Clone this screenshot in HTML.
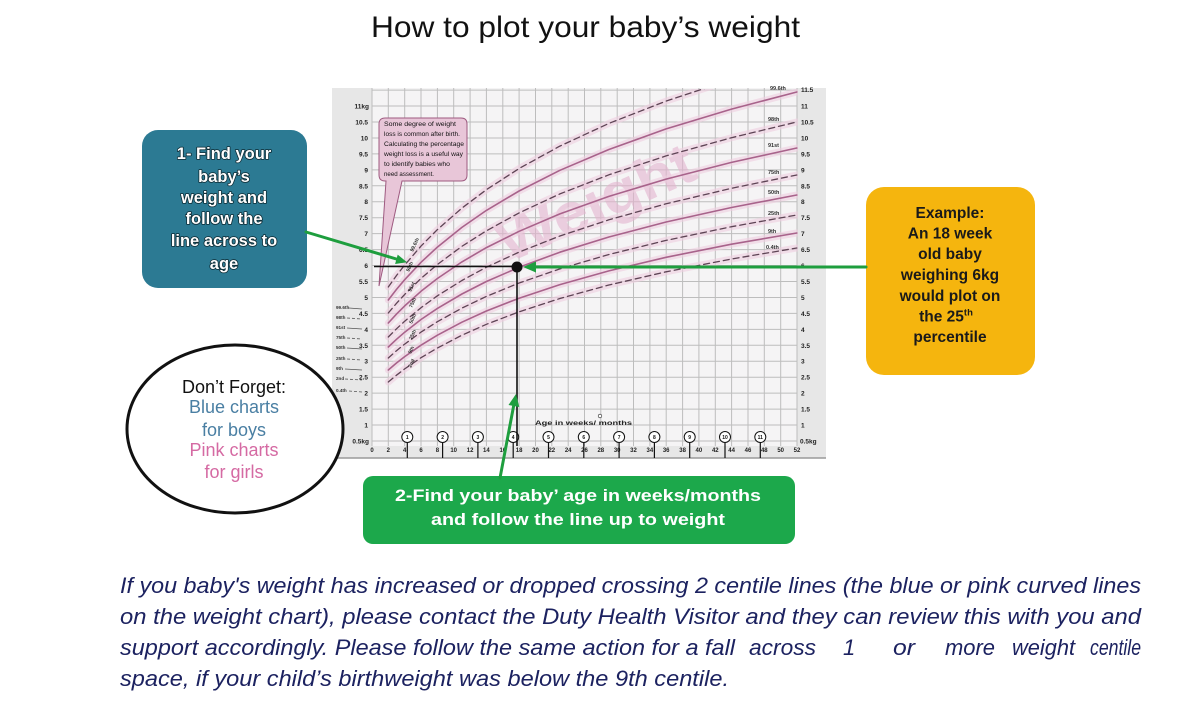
<!DOCTYPE html>
<html>
<head>
<meta charset="utf-8">
<style>
html,body{margin:0;padding:0;background:#fff;}
svg{display:block;}
text{font-family:"Liberation Sans",Arial,sans-serif;}
</style>
</head>
<body>
<svg width="1200" height="702" viewBox="0 0 1200 702" xmlns="http://www.w3.org/2000/svg">
<rect x="0" y="0" width="1200" height="702" fill="#ffffff"/>

<!-- Title -->
<text x="371" y="37" font-size="30" textLength="429" lengthAdjust="spacingAndGlyphs" fill="#111">How to plot your baby’s weight</text>

<!-- Chart panel -->
<rect x="332" y="88" width="494" height="370" fill="#e7e7e7"/>
<rect x="372" y="88" width="425" height="358" fill="#f5f4f5"/>
<line x1="332" y1="458" x2="826" y2="458" stroke="#9a9a9a" stroke-width="1.5"/>

<!-- grid -->
<path fill="none" stroke="#bdbdbd" stroke-width="1" d="M372 88V446M388.3 88V446M404.7 88V446M421 88V446M437.4 88V446M453.7 88V446M470.1 88V446M486.4 88V446M502.8 88V446M519.1 88V446M535.5 88V446M551.8 88V446M568.2 88V446M584.5 88V446M600.8 88V446M617.2 88V446M633.5 88V446M649.9 88V446M666.2 88V446M682.6 88V446M698.9 88V446M715.3 88V446M731.6 88V446M748 88V446M764.3 88V446M780.7 88V446M797 88V446
M372 441H797M372 425.05H797M372 409.1H797M372 393.15H797M372 377.2H797M372 361.25H797M372 345.3H797M372 329.35H797M372 313.4H797M372 297.45H797M372 281.5H797M372 265.55H797M372 249.6H797M372 233.65H797M372 217.7H797M372 201.75H797M372 185.8H797M372 169.85H797M372 153.9H797M372 137.95H797M372 122H797M372 106.05H797M372 90.1H797"/>

<!-- Watermark -->
<text x="597" y="222" font-size="58" font-weight="bold" fill="#e4b4cf" opacity="0.6" text-anchor="middle" textLength="210" lengthAdjust="spacingAndGlyphs" transform="rotate(-24 597 205)">Weight</text>

<clipPath id="gc"><rect x="372" y="89" width="426" height="357"/></clipPath>
<g clip-path="url(#gc)" fill="none" stroke-linejoin="round" stroke-linecap="round">
  <g stroke="#efcfe1" stroke-width="7" opacity="0.6">
    <polyline points="388.3,287 396.5,275.5 404.7,265 421,246.1 437.4,229.6 461.9,208.1 486.4,189.7 519.1,168.5 559.9,146.1 608.9,123.4 666.1,101.1 731.5,79.6 796.8,61"/>
    <polyline points="388.3,300 396.5,289.4 404.7,279.7 421,262.3 437.4,247.1 461.9,227.4 486.4,210.4 519.1,191 559.9,170.3 608.9,149.5 666.1,128.9 731.5,109.1 796.8,92"/>
    <polyline points="388.3,313 396.5,303.3 404.7,294.4 421,278.4 437.4,264.5 461.9,246.3 486.4,230.8 519.1,212.9 559.9,193.9 608.9,174.8 666.1,155.9 731.5,137.7 796.8,122"/>
    <polyline points="388.3,323 396.5,314.1 404.7,305.9 421,291.3 437.4,278.5 461.9,261.9 486.4,247.6 519.1,231.3 559.9,213.9 608.9,196.4 666.1,179.1 731.5,162.4 796.8,148"/>
    <polyline points="388.3,337 396.5,328.8 404.7,321.2 421,307.7 437.4,295.8 461.9,280.5 486.4,267.2 519.1,252.1 559.9,236 608.9,219.8 666.1,203.8 731.5,188.3 796.8,175"/>
    <polyline points="388.3,347 396.5,339.3 404.7,332.2 421,319.5 437.4,308.4 461.9,294 486.4,281.5 519.1,267.3 559.9,252.2 608.9,237 666.1,222 731.5,207.5 796.8,195"/>
    <polyline points="388.3,358 396.5,350.7 404.7,344.1 421,332.1 437.4,321.7 461.9,308.1 486.4,296.4 519.1,283 559.9,268.9 608.9,254.5 666.1,240.4 731.5,226.7 796.8,215"/>
    <polyline points="388.3,370 396.5,363 404.7,356.6 421,345.2 437.4,335.2 461.9,322.2 486.4,311 519.1,298.2 559.9,284.6 608.9,270.9 666.1,257.3 731.5,244.2 796.8,233"/>
    <polyline points="388.3,382 396.5,375.2 404.7,368.9 421,357.7 437.4,348 461.9,335.2 486.4,324.3 519.1,311.8 559.9,298.5 608.9,285 666.1,271.8 731.5,259 796.8,248"/>
  </g>
  <g stroke="#5e4455" stroke-width="1.3" stroke-dasharray="6 4">
    <polyline points="388.3,287 396.5,275.5 404.7,265 421,246.1 437.4,229.6 461.9,208.1 486.4,189.7 519.1,168.5 559.9,146.1 608.9,123.4 666.1,101.1 731.5,79.6 796.8,61"/>
    <polyline points="388.3,313 396.5,303.3 404.7,294.4 421,278.4 437.4,264.5 461.9,246.3 486.4,230.8 519.1,212.9 559.9,193.9 608.9,174.8 666.1,155.9 731.5,137.7 796.8,122"/>
    <polyline points="388.3,337 396.5,328.8 404.7,321.2 421,307.7 437.4,295.8 461.9,280.5 486.4,267.2 519.1,252.1 559.9,236 608.9,219.8 666.1,203.8 731.5,188.3 796.8,175"/>
    <polyline points="388.3,358 396.5,350.7 404.7,344.1 421,332.1 437.4,321.7 461.9,308.1 486.4,296.4 519.1,283 559.9,268.9 608.9,254.5 666.1,240.4 731.5,226.7 796.8,215"/>
    <polyline points="388.3,382 396.5,375.2 404.7,368.9 421,357.7 437.4,348 461.9,335.2 486.4,324.3 519.1,311.8 559.9,298.5 608.9,285 666.1,271.8 731.5,259 796.8,248"/>
  </g>
  <g stroke="#a8638b" stroke-width="1.6">
    <polyline points="388.3,300 396.5,289.4 404.7,279.7 421,262.3 437.4,247.1 461.9,227.4 486.4,210.4 519.1,191 559.9,170.3 608.9,149.5 666.1,128.9 731.5,109.1 796.8,92"/>
    <polyline points="388.3,323 396.5,314.1 404.7,305.9 421,291.3 437.4,278.5 461.9,261.9 486.4,247.6 519.1,231.3 559.9,213.9 608.9,196.4 666.1,179.1 731.5,162.4 796.8,148"/>
    <polyline points="388.3,347 396.5,339.3 404.7,332.2 421,319.5 437.4,308.4 461.9,294 486.4,281.5 519.1,267.3 559.9,252.2 608.9,237 666.1,222 731.5,207.5 796.8,195"/>
    <polyline points="388.3,370 396.5,363 404.7,356.6 421,345.2 437.4,335.2 461.9,322.2 486.4,311 519.1,298.2 559.9,284.6 608.9,270.9 666.1,257.3 731.5,244.2 796.8,233"/>
  </g>
</g>

<g font-size="5.5" font-weight="bold" fill="#333">
  <text x="770" y="90">99.6th</text>
  <text x="768" y="121">98th</text>
  <text x="768" y="147">91st</text>
  <text x="768" y="174">75th</text>
  <text x="768" y="194">50th</text>
  <text x="768" y="215">25th</text>
  <text x="768" y="233">9th</text>
  <text x="766" y="249">0.4th</text>
</g>
<g font-size="5" font-weight="bold" fill="#333">
  <text transform="translate(413,252) rotate(-65)">99.6th</text>
  <text transform="translate(409,272) rotate(-65)">98th</text>
  <text transform="translate(411,292) rotate(-65)">91st</text>
  <text transform="translate(412,308) rotate(-65)">75th</text>
  <text transform="translate(412,324) rotate(-65)">50th</text>
  <text transform="translate(412,340) rotate(-65)">25th</text>
  <text transform="translate(411,354) rotate(-65)">9th</text>
  <text transform="translate(411,368) rotate(-65)">2nd</text>
</g>

<g font-size="6.5" font-weight="bold" fill="#222" text-anchor="end">
  <text x="369" y="443.5">0.5kg</text>
  <text x="368" y="427.5">1</text>
  <text x="368" y="411.6">1.5</text>
  <text x="368" y="395.6">2</text>
  <text x="368" y="379.7">2.5</text>
  <text x="368" y="363.7">3</text>
  <text x="368" y="347.8">3.5</text>
  <text x="368" y="331.8">4</text>
  <text x="368" y="315.9">4.5</text>
  <text x="368" y="299.9">5</text>
  <text x="368" y="284">5.5</text>
  <text x="368" y="268">6</text>
  <text x="368" y="252.1">6.5</text>
  <text x="368" y="236.1">7</text>
  <text x="368" y="220.2">7.5</text>
  <text x="368" y="204.2">8</text>
  <text x="368" y="188.3">8.5</text>
  <text x="368" y="172.3">9</text>
  <text x="368" y="156.4">9.5</text>
  <text x="368" y="140.4">10</text>
  <text x="368" y="124.5">10.5</text>
  <text x="369" y="108.5">11kg</text>
</g>
<g font-size="6.5" font-weight="bold" fill="#222">
  <text x="800" y="443.5">0.5kg</text>
  <text x="801" y="427.5">1</text>
  <text x="801" y="411.6">1.5</text>
  <text x="801" y="395.6">2</text>
  <text x="801" y="379.7">2.5</text>
  <text x="801" y="363.7">3</text>
  <text x="801" y="347.8">3.5</text>
  <text x="801" y="331.8">4</text>
  <text x="801" y="315.9">4.5</text>
  <text x="801" y="299.9">5</text>
  <text x="801" y="284">5.5</text>
  <text x="801" y="268">6</text>
  <text x="801" y="252.1">6.5</text>
  <text x="801" y="236.1">7</text>
  <text x="801" y="220.2">7.5</text>
  <text x="801" y="204.2">8</text>
  <text x="801" y="188.3">8.5</text>
  <text x="801" y="172.3">9</text>
  <text x="801" y="156.4">9.5</text>
  <text x="801" y="140.4">10</text>
  <text x="801" y="124.5">10.5</text>
  <text x="801" y="108.5">11</text>
  <text x="801" y="92">11.5</text>
</g>

<g font-size="4.6" font-weight="bold" fill="#333">
  <text x="336" y="309">99.6th</text>
  <text x="336" y="319">98th</text>
  <text x="336" y="329">91st</text>
  <text x="336" y="339">75th</text>
  <text x="336" y="349">50th</text>
  <text x="336" y="360">25th</text>
  <text x="336" y="370">9th</text>
  <text x="336" y="380">2nd</text>
  <text x="336" y="392">0.4th</text>
</g>
<g stroke="#555" stroke-width="0.8">
  <line x1="349" y1="308" x2="362" y2="309"/>
  <line x1="347" y1="318" x2="362" y2="319" stroke-dasharray="3 2"/>
  <line x1="347" y1="328" x2="362" y2="329"/>
  <line x1="347" y1="338" x2="362" y2="339" stroke-dasharray="3 2"/>
  <line x1="347" y1="348" x2="362" y2="349"/>
  <line x1="347" y1="359" x2="362" y2="360" stroke-dasharray="3 2"/>
  <line x1="345" y1="369" x2="362" y2="370"/>
  <line x1="345" y1="379" x2="362" y2="380" stroke-dasharray="3 2"/>
  <line x1="349" y1="391" x2="362" y2="392" stroke-dasharray="3 2"/>
</g>

<g font-size="6" font-weight="bold" fill="#222" text-anchor="middle">
  <text x="372" y="452">0</text><text x="388.3" y="452">2</text><text x="404.7" y="452">4</text><text x="421" y="452">6</text><text x="437.4" y="452">8</text><text x="453.7" y="452">10</text><text x="470.1" y="452">12</text><text x="486.4" y="452">14</text><text x="502.8" y="452">16</text><text x="519.1" y="452">18</text><text x="535.5" y="452">20</text><text x="551.8" y="452">22</text><text x="568.2" y="452">24</text><text x="584.5" y="452">26</text><text x="600.8" y="452">28</text><text x="617.2" y="452">30</text><text x="633.5" y="452">32</text><text x="649.9" y="452">34</text><text x="666.2" y="452">36</text><text x="682.6" y="452">38</text><text x="698.9" y="452">40</text><text x="715.3" y="452">42</text><text x="731.6" y="452">44</text><text x="748" y="452">46</text><text x="764.3" y="452">48</text><text x="780.7" y="452">50</text><text x="797" y="452">52</text>
</g>

<g stroke="#111" stroke-width="1.2">
  <line x1="407.3" y1="442" x2="407.3" y2="458"/><line x1="442.6" y1="442" x2="442.6" y2="458"/><line x1="477.9" y1="442" x2="477.9" y2="458"/><line x1="513.2" y1="442" x2="513.2" y2="458"/><line x1="548.5" y1="442" x2="548.5" y2="458"/><line x1="583.8" y1="442" x2="583.8" y2="458"/><line x1="619.1" y1="442" x2="619.1" y2="458"/><line x1="654.4" y1="442" x2="654.4" y2="458"/><line x1="689.7" y1="442" x2="689.7" y2="458"/><line x1="725" y1="442" x2="725" y2="458"/><line x1="760.3" y1="442" x2="760.3" y2="458"/>
</g>
<g fill="#fff" stroke="#111" stroke-width="1">
  <circle cx="407.3" cy="437" r="5.5"/><circle cx="442.6" cy="437" r="5.5"/><circle cx="477.9" cy="437" r="5.5"/><circle cx="513.2" cy="437" r="5.5"/><circle cx="548.5" cy="437" r="5.5"/><circle cx="583.8" cy="437" r="5.5"/><circle cx="619.1" cy="437" r="5.5"/><circle cx="654.4" cy="437" r="5.5"/><circle cx="689.7" cy="437" r="5.5"/><circle cx="725" cy="437" r="5.5"/><circle cx="760.3" cy="437" r="5.5"/>
</g>
<g font-size="5" font-weight="bold" fill="#111" text-anchor="middle">
  <text x="407.3" y="439">1</text><text x="442.6" y="439">2</text><text x="477.9" y="439">3</text><text x="513.2" y="439">4</text><text x="548.5" y="439">5</text><text x="583.8" y="439">6</text><text x="619.1" y="439">7</text><text x="654.4" y="439">8</text><text x="689.7" y="439">9</text><text x="725" y="439">10</text><text x="760.3" y="439">11</text>
</g>
<text x="535" y="425" font-size="6.5" font-weight="bold" fill="#222" textLength="97" lengthAdjust="spacingAndGlyphs">Age in weeks/  months</text>
<circle cx="600" cy="416" r="1.8" fill="#fff" stroke="#222" stroke-width="0.6"/>

<path d="M385 118 H461 Q467 118 467 124 V175 Q467 181 461 181 H402 L379 286 L386 181 H385 Q379 181 379 175 V124 Q379 118 385 118 Z" fill="#e8c6d8" stroke="#9e5a80" stroke-width="1"/>
<g font-size="6" fill="#111">
  <text x="384" y="126" textLength="72" lengthAdjust="spacingAndGlyphs">Some degree of weight</text>
  <text x="384" y="136" textLength="76" lengthAdjust="spacingAndGlyphs">loss is common after birth.</text>
  <text x="384" y="146" textLength="80" lengthAdjust="spacingAndGlyphs">Calculating the percentage</text>
  <text x="384" y="156" textLength="79" lengthAdjust="spacingAndGlyphs">weight loss is a useful way</text>
  <text x="384" y="166" textLength="66" lengthAdjust="spacingAndGlyphs">to identify babies who</text>
  <text x="384" y="176" textLength="50" lengthAdjust="spacingAndGlyphs">need assessment.</text>
</g>

<line x1="374" y1="266.5" x2="517" y2="266.5" stroke="#111" stroke-width="1.6"/>
<line x1="517" y1="267" x2="517" y2="446" stroke="#111" stroke-width="1.6"/>
<circle cx="517" cy="267" r="5.5" fill="#111"/>

<ellipse cx="235" cy="429" rx="108" ry="84" fill="#fff" stroke="#111" stroke-width="3"/>
<g font-size="18" text-anchor="middle">
  <text x="234" y="393" fill="#111">Don’t Forget:</text>
  <text x="234" y="413" fill="#4a7fa3">Blue charts</text>
  <text x="234" y="436" fill="#4a7fa3">for boys</text>
  <text x="234" y="456" fill="#d56aa3">Pink charts</text>
  <text x="234" y="478" fill="#d56aa3">for girls</text>
</g>

<rect x="142" y="130" width="165" height="158" rx="16" fill="#2c7a93"/>
<g font-size="16.5" font-weight="bold" fill="#fff" text-anchor="middle" stroke="#0d2a33" stroke-width="1.6" paint-order="stroke" stroke-linejoin="round">
  <text x="224" y="159">1- Find your</text>
  <text x="224" y="182">baby’s</text>
  <text x="224" y="203">weight and</text>
  <text x="224" y="224">follow the</text>
  <text x="224" y="246">line across to</text>
  <text x="224" y="269">age</text>
</g>

<rect x="866" y="187" width="169" height="188" rx="18" fill="#f5b50e"/>
<g font-size="15.5" font-weight="bold" fill="#1a1a1a" text-anchor="middle">
  <text x="950" y="218">Example:</text>
  <text x="950" y="238.5">An 18 week</text>
  <text x="950" y="259">old baby</text>
  <text x="950" y="280">weighing 6kg</text>
  <text x="950" y="301">would plot on</text>
  <text x="946" y="321.5">the 25<tspan font-size="9.5" dy="-6">th</tspan></text>
  <text x="950" y="342">percentile</text>
</g>

<rect x="363" y="476" width="432" height="68" rx="10" fill="#1ca84b"/>
<g font-size="17" font-weight="bold" fill="#fff" text-anchor="middle">
  <text x="578" y="501" textLength="366" lengthAdjust="spacingAndGlyphs">2-Find your baby’ age in weeks/months</text>
  <text x="578" y="525" textLength="294" lengthAdjust="spacingAndGlyphs">and follow the line up to weight</text>
</g>

<g stroke="#1e9e3e" stroke-width="3" fill="none" stroke-linecap="round">
  <line x1="306" y1="232" x2="398" y2="259.5"/>
  <line x1="866" y1="267" x2="533" y2="267"/>
  <line x1="500" y1="478" x2="514" y2="404"/>
</g>
<g fill="#1e9e3e">
  <polygon points="407,262.3 395.1,264 397.7,254.6"/>
  <polygon points="523,267 536,261.5 536,272.5"/>
  <polygon points="516,394 519.3,407 508.5,405"/>
</g>

<g font-size="22" font-style="italic" fill="#1c2260">
  <text x="120" y="593" textLength="1021" lengthAdjust="spacingAndGlyphs">If you baby's weight has increased or dropped crossing 2 centile lines (the blue or pink curved lines</text>
  <text x="120" y="624" textLength="1021" lengthAdjust="spacingAndGlyphs">on the weight chart), please contact the Duty Health Visitor and they can review this with you and</text>
  <text x="120" y="655" textLength="615" lengthAdjust="spacingAndGlyphs">support accordingly. Please follow the same action for a fall</text>
  <text x="749" y="655" textLength="67" lengthAdjust="spacingAndGlyphs">across</text>
  <text x="843" y="655">1</text>
  <text x="893" y="655" textLength="22" lengthAdjust="spacingAndGlyphs">or</text>
  <text x="945" y="655" textLength="50" lengthAdjust="spacingAndGlyphs">more</text>
  <text x="1012" y="655" textLength="63" lengthAdjust="spacingAndGlyphs">weight</text>
  <text x="1090" y="655" textLength="51" lengthAdjust="spacingAndGlyphs">centile</text>
  <text x="120" y="686" textLength="609" lengthAdjust="spacingAndGlyphs">space, if your child’s birthweight was below the 9th centile.</text>
</g>
</svg>
</body>
</html>
